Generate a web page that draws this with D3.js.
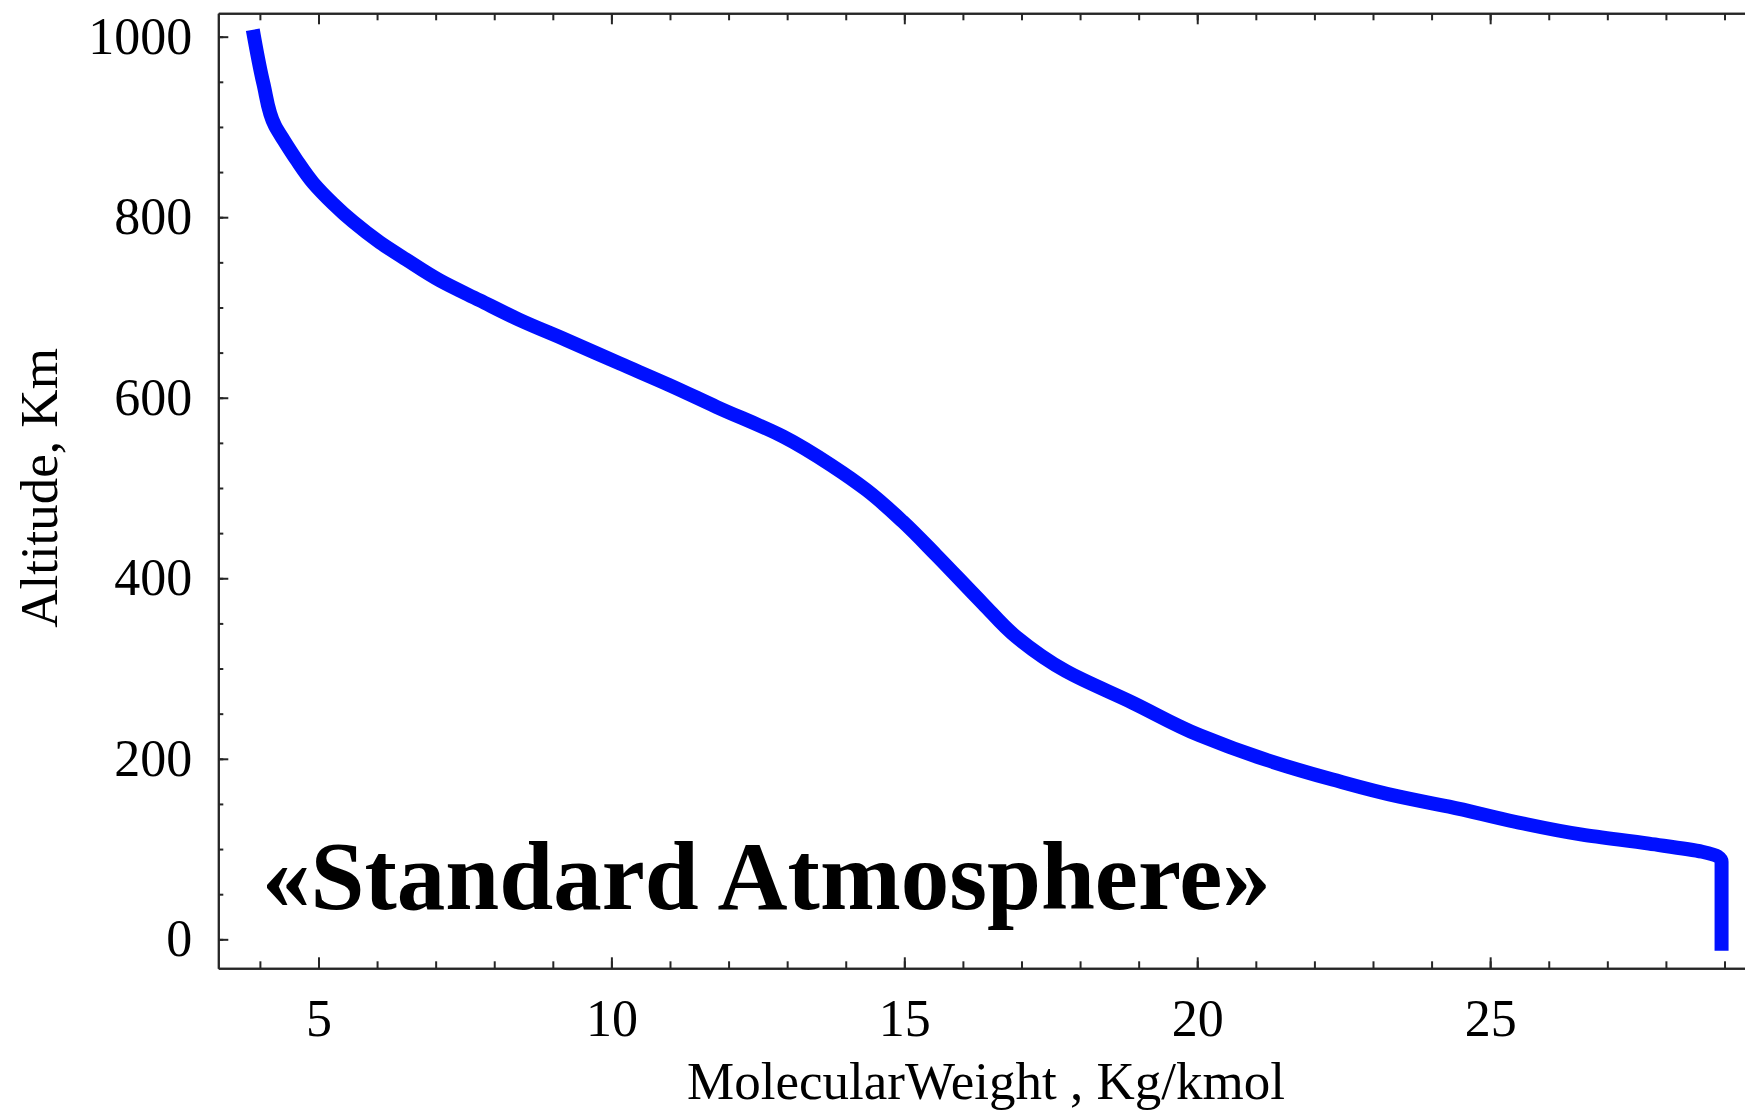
<!DOCTYPE html>
<html>
<head>
<meta charset="utf-8">
<script src="https://cdn.jsdelivr.net/npm/d3@7"></script>
<style>
  html, body { margin: 0; padding: 0; background: #ffffff; }
  svg { display: block; }
  text { font-family: "Liberation Serif", "Times New Roman", serif; fill: #000; }
</style>
</head>
<body>
<script>
// Molecular weight of air (kg/kmol) versus altitude (km), standard atmosphere
const molecularWeight = [
  3.90, 4.06, 4.26, 4.41, 4.63, 4.91, 5.25, 5.59, 6.05, 6.50,
  7.07, 7.75, 8.44, 9.23, 10.14, 10.99, 11.79, 12.93, 13.78,
  14.35, 14.97, 15.54, 16.34, 16.91, 17.76, 18.90, 20.04, 21.17, 22.31,
  23.45, 24.30, 25.44, 26.57, 27.71, 28.62, 28.88, 28.95, 28.95
];
const altitude = [
  1000, 948, 901, 885, 863, 838, 815, 795, 772, 753,
  730, 708, 686, 664, 638, 614, 590, 557, 524,
  498, 463, 426, 372, 335, 297, 262, 226, 199, 177,
  158, 147, 130, 116, 106, 97, 92, 86, -5
];

const xMajorTicks = [5, 10, 15, 20, 25];
const xMinorTicks = d3.range(4, 30, 1);
const yMajorTicks = [0, 200, 400, 600, 800, 1000];
const yMinorTicks = d3.range(0, 1001, 50);

const xTitle = "MolecularWeight , Kg/kmol";
const yTitle = "Altitude, Km";
const caption = "\u00abStandard Atmosphere\u00bb";

const W = 1745, H = 1111;
const plotLeft = 218.3, plotRight = 1745, plotTop = 13.3, plotBottom = 968.3;

const svg = d3.select("body").append("svg")
  .attr("width", W).attr("height", H)
  .attr("viewBox", `0 0 ${W} ${H}`);

svg.append("rect").attr("width", W).attr("height", H).attr("fill", "#fff");

const x = d3.scaleLinear().domain([3.29, 29.35]).range([plotLeft, plotRight]);
const y = d3.scaleLinear().domain([-32.1, 1025.9]).range([plotBottom, plotTop]);

const frameColor = "#262626";

function styleAxis(g) {
  g.selectAll(".domain").attr("stroke", frameColor).attr("stroke-width", 2);
  g.selectAll(".tick line").attr("stroke", frameColor).attr("stroke-width", 2);
}

// Bottom axis: minor then major ticks, pointing inward
svg.append("g").attr("transform", `translate(0,${plotBottom})`)
  .call(d3.axisBottom(x).tickValues(xMinorTicks).tickSize(-7).tickSizeOuter(0).tickFormat(""))
  .call(styleAxis);
const gx = svg.append("g").attr("transform", `translate(0,${plotBottom})`)
  .call(d3.axisBottom(x).tickValues(xMajorTicks).tickSize(-11).tickSizeOuter(0).tickPadding(31).tickFormat(d3.format("d")))
  .call(styleAxis);
gx.selectAll(".tick text").attr("font-size", 52).attr("font-family", "Liberation Serif").attr("fill", "#000");

// Top frame edge with mirrored ticks
svg.append("g").attr("transform", `translate(0,${plotTop})`)
  .call(d3.axisTop(x).tickValues(xMinorTicks).tickSize(-7).tickSizeOuter(0).tickFormat(""))
  .call(styleAxis);
svg.append("g").attr("transform", `translate(0,${plotTop})`)
  .call(d3.axisTop(x).tickValues(xMajorTicks).tickSize(-11).tickSizeOuter(0).tickFormat(""))
  .call(styleAxis);

// Left axis
svg.append("g").attr("transform", `translate(${plotLeft},0)`)
  .call(d3.axisLeft(y).tickValues(yMinorTicks).tickSize(-5).tickSizeOuter(0).tickFormat(""))
  .call(styleAxis);
const gy = svg.append("g").attr("transform", `translate(${plotLeft},0)`)
  .call(d3.axisLeft(y).tickValues(yMajorTicks).tickSize(-10).tickSizeOuter(0).tickPadding(26).tickFormat(d3.format("d")))
  .call(styleAxis);
gy.selectAll(".tick text").attr("font-size", 52).attr("font-family", "Liberation Serif").attr("fill", "#000");

// Profile curve, smoothed along the altitude direction
const points = molecularWeight.map((m, i) => [m, altitude[i]]);
svg.append("path")
  .datum(points)
  .attr("fill", "none")
  .attr("stroke", "#0010ff")
  .attr("stroke-width", 14)
  .attr("stroke-linecap", "square")
  .attr("stroke-linejoin", "round")
  .attr("d", d3.line().curve(d3.curveMonotoneY).x(d => x(d[0])).y(d => y(d[1])));

// Axis titles
svg.append("text")
  .attr("x", 986).attr("y", 1099)
  .attr("text-anchor", "middle")
  .attr("font-size", 53)
  .text(xTitle);

svg.append("text")
  .attr("transform", "translate(56.7,488) rotate(-90)")
  .attr("text-anchor", "middle")
  .attr("font-size", 53)
  .text(yTitle);

// Caption inside the plot
svg.append("text")
  .attr("x", 262).attr("y", 909)
  .attr("font-size", 97)
  .attr("font-weight", "bold")
  .text(caption);
</script>
</body>
</html>
